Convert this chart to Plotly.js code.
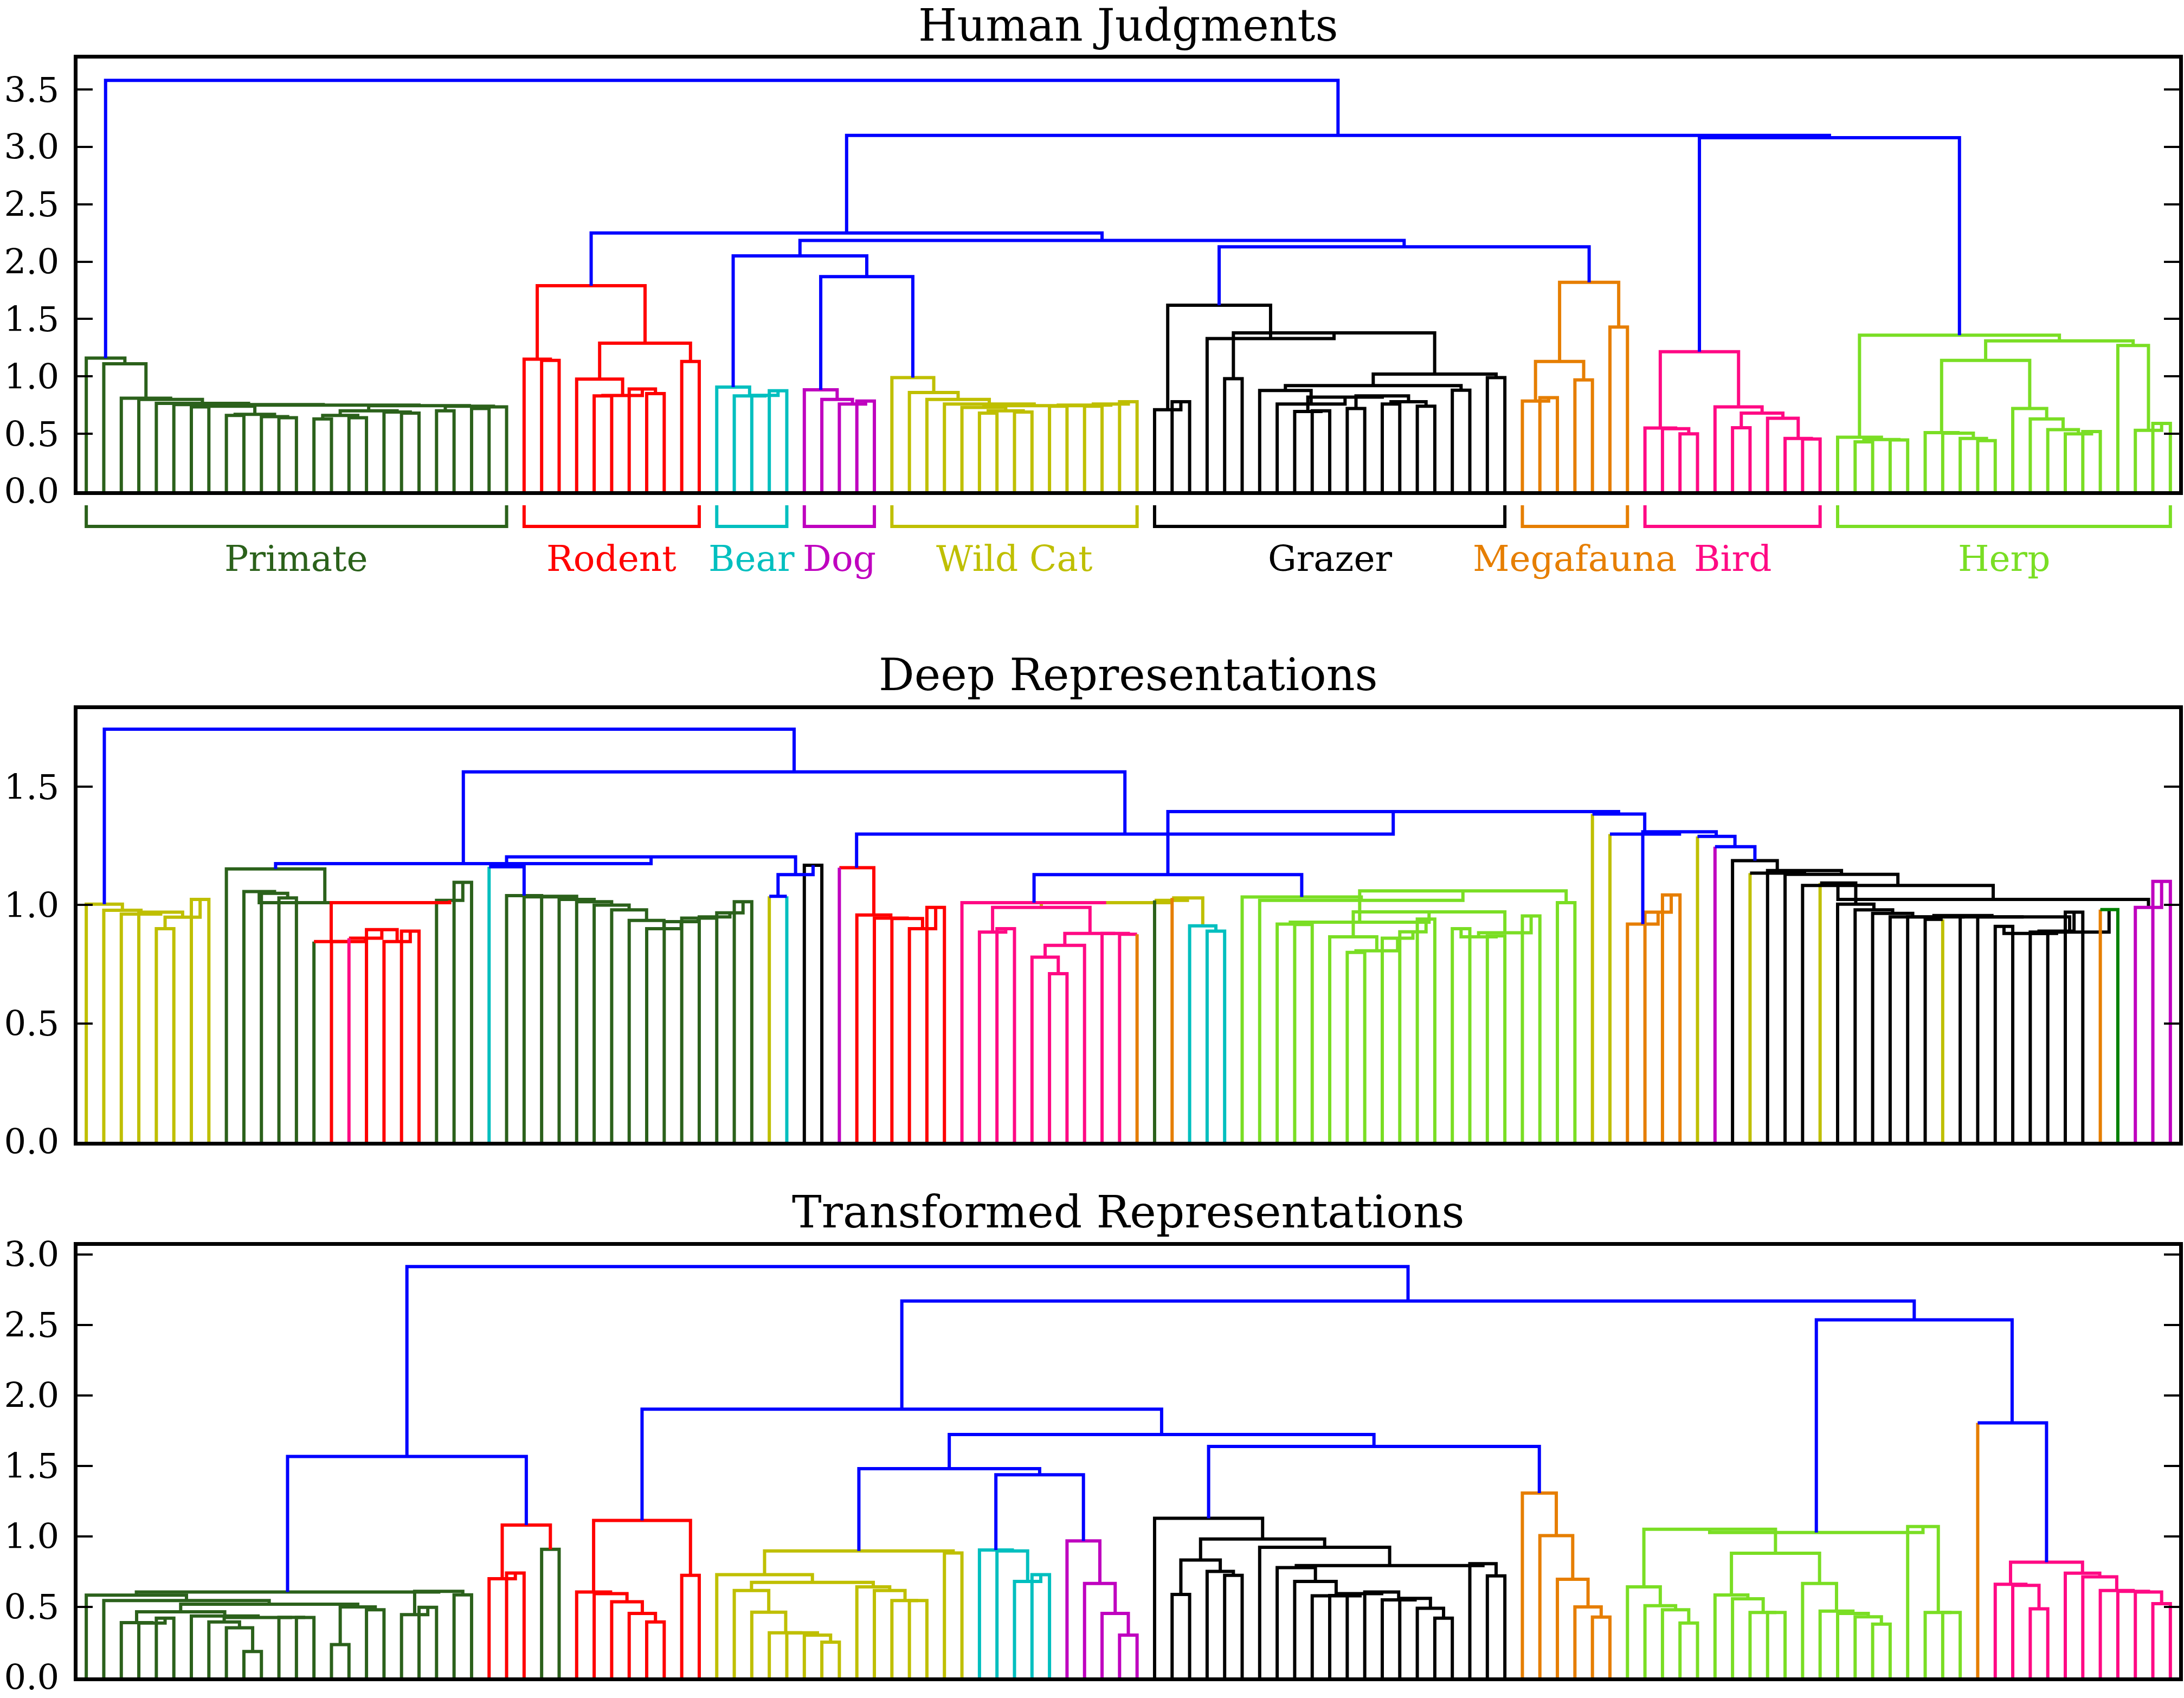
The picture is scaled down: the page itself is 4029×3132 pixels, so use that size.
<!DOCTYPE html>
<html><head><meta charset="utf-8">
<script src="https://cdn.plot.ly/plotly-3.0.1.min.js"></script>
<style>html,body{margin:0;padding:0;background:#fff}#chart{width:4029px;height:3132px}</style>
</head><body><div id="chart"></div>
<script>
// ---------- DATA: linkage trees  [height, left, right, (optional link colour)] ; leaf = category code ----------
// Panel 1 : Human Judgments
const HJ_PRIMATE_LEFT  = [0.74,[0.735,'g','g'],[0.67,[0.66,'g','g'],[0.65,'g',[0.64,'g','g']]]];
const HJ_PRIMATE_MID   = [0.70,[0.66,[0.63,'g','g'],[0.64,'g','g']],[0.69,'g',[0.68,'g','g']]];
const HJ_PRIMATE_RIGHT = [0.74,[0.70,'g','g'],[0.735,[0.72,'g','g'],'g']];
const HJ_PRIMATE = [1.16,'g',[1.11,'g',[0.81,'g',[0.80,'g',[0.765,'g',[0.755,'g',[0.75,HJ_PRIMATE_LEFT,[0.745,HJ_PRIMATE_MID,HJ_PRIMATE_RIGHT]]]]]]]];
const HJ_RODENT = [1.79,[1.15,'r',[1.14,'r','r']],[1.29,[0.977,'r',[0.834,[0.83,'r','r'],[0.89,'r',[0.85,'r','r']]]],[1.13,'r','r']]];
const HJ_BEAR = [0.907,'c',[0.83,'c',[0.835,'c',[0.875,'c','c']]]];
const HJ_DOG = [0.884,'m',[0.80,'m',[0.76,'m',[0.785,'m','m']]]];
const HJ_WILDCAT = [0.99,'y',[0.86,'y',[0.80,'y',[0.76,'y',[0.745,[0.73,'y',[0.70,[0.68,'y','y'],[0.69,'y','y']]],[0.75,[0.74,'y','y'],[0.76,[0.74,'y','y'],[0.78,'y','y']]]]]]]];
const HJ_GRAZER = [1.62,[0.71,'k',[0.78,'k','k']],[1.33,'k',[1.38,[0.98,'k','k'],[1.02,[0.92,[0.877,'k',[0.76,'k',[0.82,[0.695,'k',[0.70,'k','k']],[0.83,[0.72,'k','k'],[0.78,[0.76,'k','k'],[0.74,'k','k']]]]]],[0.88,'k','k']],[0.99,'k','k']]]]];
const HJ_MEGA = [1.82,[1.13,[0.785,'o',[0.815,'o','o']],[0.97,'o','o']],[1.43,'o','o']];
const HJ_BIRD = [1.215,[0.55,'p',[0.545,'p',[0.50,'p','p']]],[0.735,'p',[0.68,[0.553,'p','p'],[0.636,'p',[0.46,'p',[0.455,'p','p']]]]]];
const HJ_HERP = [1.36,[0.47,'l',[0.45,[0.43,'l','l'],[0.447,'l','l']]],[1.31,[1.14,[0.51,'l',[0.505,'l',[0.46,'l',[0.44,'l','l']]]],[0.72,'l',[0.63,'l',[0.536,'l',[0.50,'l',[0.52,'l','l']]]]]],[1.27,'l',[0.53,'l',[0.59,'l','l']]]]];
const HJ_TREE = [3.58,HJ_PRIMATE,[3.10,[2.25,HJ_RODENT,[2.185,[2.05,HJ_BEAR,[1.87,HJ_DOG,HJ_WILDCAT]],[2.13,HJ_GRAZER,HJ_MEGA]]],[3.08,HJ_BIRD,HJ_HERP]]];

// Panel 2 : Deep Representations
const DR_WILDCAT = [1.004,'y',[0.978,'y',[0.962,'y',[0.97,'y',[0.949,[0.90,'y','y'],[1.024,'y','y']]]]]];
const DR_PRIM_A_LEFT = [1.057,'g',[1.05,'g',[1.03,'g','g']]];
const DR_RODENT_A = [0.846,'g',[0.846,'r',[0.86,'p',[0.896,'r',[0.846,'r',[0.89,'r','r']]]]],'r'];
const DR_PRIM_A_RIGHT = [1.02,'g',[1.096,'g','g']];
const DR_PRIM_A = [1.153,'g',[1.01,DR_PRIM_A_LEFT,[1.01,DR_RODENT_A,DR_PRIM_A_RIGHT,'r']],'g'];
const DR_PRIM_B = [1.04,'g',[1.035,'g',[1.037,'g',[1.024,'g',[1.014,'g',[1.0,'g',[0.98,'g',[0.935,'g',[0.90,'g',[0.93,'g',[0.945,'g',[0.95,'g',[0.967,'g',[1.014,'g','g']]]]]]]]]]]]]];
const DR_BLUE_B = [1.204,[1.162,'c',DR_PRIM_B],[1.129,[1.037,'y','c'],[1.168,'k','k']]];
const DR_RODENT_B = [1.158,'m',[0.958,'r',[0.945,'r',[0.943,'r',[0.90,'r',[0.99,'r','r']]]]],'r'];
const DR_BIRD_L = [0.99,[0.886,'p',[0.90,'p','p']],[0.88,[0.83,[0.78,'p',[0.71,'p','p']],'p'],[0.88,'p',[0.877,'p','o']]],'p'];
const DR_MIXED_Y = [1.02,'g',[1.03,'o',[0.912,'c',[0.89,'c','c']]],'y'];
const DR_BIRD = [1.01,'p',[1.01,DR_BIRD_L,DR_MIXED_Y,'y'],'p'];
const DR_HERP_X7 = [0.883,[0.866,[0.90,'l','l'],[0.87,'l','l']],[0.954,'l','l']];
const DR_HERP_X6 = [0.971,[0.866,'l',[0.807,[0.80,'l','l'],[0.86,'l',[0.887,'l',[0.941,'l','l']]]]],DR_HERP_X7];
const DR_HERP = [1.034,'l',[1.02,'l',[1.06,[0.928,[0.92,'l',[0.918,'l','l']],DR_HERP_X6],[1.01,'l','l']]]];
const DR_MEGA = [0.92,'o',[0.97,'o',[1.043,'o','o']]];
const DR_GRAZER_Z = [0.886,[0.88,[0.91,'k','k'],[0.89,[0.88,'k','k'],[0.97,'k','k']]],[0.981,'o','G','G']];
const DR_GRAZER_CHAIN = [1.004,'k',[0.98,'k',[0.965,'k',[0.95,'k',[0.95,'k',[0.956,[0.94,'k','y'],[0.95,'k',[0.95,'k',DR_GRAZER_Z]]]]]]]];
const DR_DOG = [0.99,'m',[1.10,'m','m']];
const DR_GRAZER = [1.188,'k',[1.135,'y',[1.146,'k',[1.13,'k',[1.083,'k',[1.024,[1.093,'y',DR_GRAZER_CHAIN],DR_DOG]]]]],'k'];
const DR_TREE = [1.743,DR_WILDCAT,[1.563,[1.175,DR_PRIM_A,DR_BLUE_B],[1.30,DR_RODENT_B,[1.395,[1.129,DR_BIRD,DR_HERP],[1.385,'y',[1.30,'y',[1.31,DR_MEGA,[1.29,'y',[1.247,'m',DR_GRAZER]]]]]]]]];

// Panel 3 : Transformed Representations
const TR_PRIMATE_H = [0.435,'g',[0.425,[0.393,'g',[0.352,'g',[0.184,'g','g']]],[0.426,'g',[0.425,'g','g']]]];
const TR_PRIMATE_E = [0.465,[0.388,'g',[0.385,'g',[0.42,'g','g']]],TR_PRIMATE_H];
const TR_PRIMATE_F = [0.50,[0.233,'g','g'],[0.48,'g','g']];
const TR_PRIMATE_B = [0.61,[0.445,'g',[0.497,'g','g']],[0.585,'g','g']];
const TR_PRIMATE = [0.605,[0.583,'g',[0.545,'g',[0.519,TR_PRIMATE_E,TR_PRIMATE_F]]],TR_PRIMATE_B];
const TR_RODENT_A = [1.08,[0.70,'r',[0.74,'r','r']],[0.908,'g','g'],'r'];
const TR_RODENT_B = [1.113,[0.605,'r',[0.594,'r',[0.536,'r',[0.454,'r',[0.393,'r','r']]]]],[0.724,'r','r']];
const TR_WILDCAT = [0.897,[0.728,'y',[0.674,[0.616,'y',[0.4625,'y',[0.316,'y',[0.316,'y',[0.30,'y',[0.25,'y','y']]]]]],[0.642,'y',[0.616,'y',[0.545,'y',[0.545,'y','y']]]]]],[0.882,'y','y']];
const TR_BEAR = [0.903,'c',[0.897,'c',[0.68,'c',[0.728,'c','c']]]];
const TR_DOG = [0.968,'m',[0.666,'m',[0.454,'m',[0.30,'m','m']]]];
const TR_GRAZER_TAIL = [0.594,[0.58,'k','k'],[0.605,'k',[0.55,'k',[0.56,'k',[0.49,'k',[0.42,'k','k']]]]]];
const TR_GRAZER = [1.128,'k',[0.981,[0.832,[0.588,'k','k'],[0.752,'k',[0.724,'k','k']]],[0.923,'k',[0.793,[0.778,'k',[0.68,'k',[0.579,'k',TR_GRAZER_TAIL]]],[0.806,'k',[0.72,'k','k']]]]]];
const TR_MEGA = [1.307,'o',[1.005,'o',[0.696,'o',[0.50,'o',[0.428,'o','o']]]]];
const TR_HERP = [1.027,[1.05,[0.642,'l',[0.508,'l',[0.48,'l',[0.385,'l','l']]]],[0.88,[0.584,'l',[0.557,'l',[0.46,'l',[0.46,'l','l']]]],[0.666,'l',[0.47,'l',[0.454,'l',[0.43,'l',[0.378,'l','l']]]]]]],[1.07,'l',[0.46,'l',[0.46,'l','l']]]];
const TR_BIRD = [0.817,[0.66,'p',[0.653,'p',[0.486,'p','p']]],[0.739,'p',[0.713,'p',[0.616,'p',[0.61,'p',[0.605,'p',[0.523,'p','p']]]]]]];
const TR_TREE = [2.913,[1.567,TR_PRIMATE,TR_RODENT_A],[2.669,[1.902,TR_RODENT_B,[1.722,[1.48,TR_WILDCAT,[1.437,TR_BEAR,TR_DOG]],[1.638,TR_GRAZER,TR_MEGA]]],[2.535,TR_HERP,[1.805,'o',TR_BIRD]]]];

// Category brackets (panel 1)
const GROUP_NAMES  = ['Primate','Rodent','Bear','Dog','Wild Cat','Grazer','Megafauna','Bird','Herp'];
const GROUP_SIZES  = [25,11,5,5,15,21,7,11,20];
const GROUP_CODES  = ['g','r','c','m','y','k','o','p','l'];
const PANEL_TITLES = ['Human Judgments','Deep Representations','Transformed Representations'];
const Y_TICKS_1 = [0,0.5,1.0,1.5,2.0,2.5,3.0,3.5];
const Y_TICKS_2 = [0,0.5,1.0,1.5];
const Y_TICKS_3 = [0,0.5,1.0,1.5,2.0,2.5,3.0];

// ---------- STYLE ----------
const COL = {g:'#2b611b', r:'#ff0000', c:'#00bfbf', m:'#bf00bf', y:'#bfbf00', k:'#000000',
             o:'#e67e00', p:'#ff0a84', l:'#7ade24', G:'#008000', b:'#0000ff'};
const W = 4029, H = 3132;
const XL = 143, XR = 4020;
const PANELS = [
  {tree:HJ_TREE, top:108,  bot:906,  ymax:3.77,  ticks:Y_TICKS_1, titleY:47},
  {tree:DR_TREE, top:1308, bot:2106, ymax:1.828, ticks:Y_TICKS_2, titleY:1244},
  {tree:TR_TREE, top:2298, bot:3094, ymax:3.06,  ticks:Y_TICKS_3, titleY:2235}
];
const LW = 6;
const FONT = 'DejaVu Serif, Liberation Serif, serif';

function buildSegments(tree){
  const memo = new Map();
  function colorsOf(n){
    if (typeof n === 'string') return new Set([n]);
    if (memo.has(n)) return memo.get(n);
    const s = new Set([...colorsOf(n[1]), ...colorsOf(n[2])]);
    memo.set(n, s); return s;
  }
  let idx = 0;
  const segs = {};
  function push(c, xs, ys){
    if (!segs[c]) segs[c] = {x:[], y:[]};
    segs[c].x.push(...xs, null); segs[c].y.push(...ys, null);
  }
  function walk(n, inherited){
    if (typeof n === 'string'){ const x = 5 + 10*idx++; return {x:x, y:0, leaf:n}; }
    const h = n[0], explicit = n[3];
    const cs = colorsOf(n);
    const col = explicit || (cs.size === 1 ? [...cs][0] : inherited);
    const A = walk(n[1], col), B = walk(n[2], col);
    const pts = [[A.x,A.y],[A.x,h],[B.x,h],[B.x,B.y]];
    const sc = [A.leaf || col, col, B.leaf || col];
    let start = 0;
    for (let i = 1; i <= 3; i++){
      if (i === 3 || sc[i] !== sc[start]){
        const sub = pts.slice(start, i+1);
        push(sc[start], sub.map(p=>p[0]), sub.map(p=>p[1]));
        start = i;
      }
    }
    return {x:(A.x+B.x)/2, y:h, leaf:null};
  }
  walk(tree, 'b');
  return {segs:segs, count:idx};
}

const traces = [];
const layout = {
  width:W, height:H, margin:{l:0,r:0,t:0,b:0}, showlegend:false,
  paper_bgcolor:'#ffffff', plot_bgcolor:'#ffffff',
  font:{family:FONT, size:64, color:'#000'},
  annotations:[], shapes:[]
};
PANELS.forEach((P, i) => {
  const n = i === 0 ? '' : String(i+1);
  const built = buildSegments(P.tree);
  console.log('panel', i+1, 'leaves', built.count);
  const order = Object.keys(built.segs).sort((a,b)=> (a==='b') - (b==='b'));
  order.forEach(c => {
    traces.push({type:'scatter', mode:'lines', x:built.segs[c].x, y:built.segs[c].y,
      xaxis:'x'+n, yaxis:'y'+n, line:{color:COL[c], width:LW}, hoverinfo:'skip', connectgaps:false});
  });
  layout['xaxis'+n] = {domain:[XL/W, XR/W], range:[0, 10*built.count], anchor:'y'+n,
    showgrid:false, zeroline:false, showticklabels:false, ticks:'', showline:true, mirror:true,
    linecolor:'#000', linewidth:7, fixedrange:true, automargin:false};
  layout['yaxis'+n] = {domain:[1-P.bot/H, 1-P.top/H], range:[0, P.ymax], anchor:'x'+n,
    showgrid:false, zeroline:false, tickmode:'array', tickvals:P.ticks,
    ticktext:P.ticks.map(v=>v.toFixed(1)), ticks:'inside', ticklen:28, tickwidth:4, tickcolor:'#000',
    showline:true, mirror:'ticks', linecolor:'#000', linewidth:7, ticklabelstandoff:14,
    tickfont:{family:FONT, size:64, color:'#000'}, fixedrange:true, automargin:false};
  layout.annotations.push({text:PANEL_TITLES[i], xref:'paper', yref:'paper', x:(XL+XR)/2/W, y:1-P.titleY/H,
    xanchor:'center', yanchor:'middle', showarrow:false, font:{family:FONT, size:82, color:'#000'}});
});

// Panel-1 category brackets and labels
let start = 0;
GROUP_NAMES.forEach((name, gi) => {
  const x0 = 5 + 10*start, x1 = 5 + 10*(start + GROUP_SIZES[gi] - 1);
  const yT = 1 - 932/H, yB = 1 - 971/H;
  layout.shapes.push({type:'path', xref:'x', yref:'paper',
    path:`M ${x0},${yT} L ${x0},${yB} L ${x1},${yB} L ${x1},${yT}`,
    line:{color:COL[GROUP_CODES[gi]], width:6}});
  layout.annotations.push({text:name, xref:'x', yref:'paper', x:(x0+x1)/2, y:1-1030/H,
    xanchor:'center', yanchor:'middle', showarrow:false,
    font:{family:FONT, size:66, color:COL[GROUP_CODES[gi]]}});
  start += GROUP_SIZES[gi];
});

Plotly.newPlot('chart', traces, layout, {staticPlot:true, displayModeBar:false});
</script></body></html>
